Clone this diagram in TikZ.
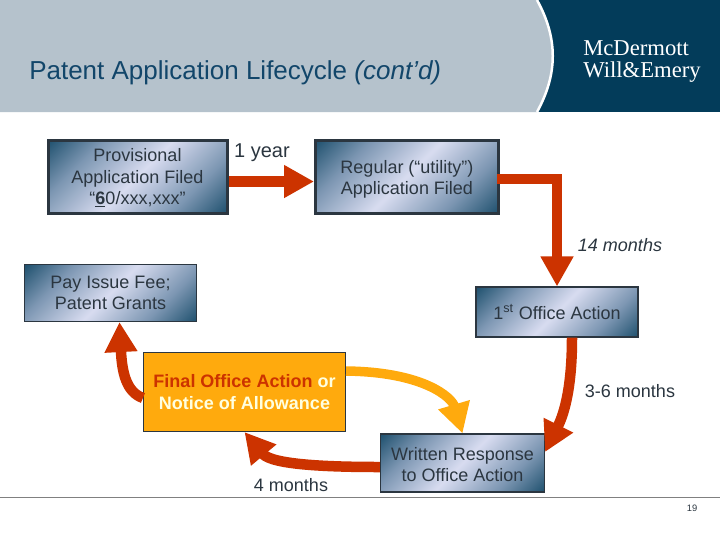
\documentclass[tikz,border=0pt]{standalone}
\usepackage{fontspec}
\setmainfont{Liberation Sans}
\newfontfamily\logofont{Liberation Serif}
\usetikzlibrary{arrows.meta}
\definecolor{navy}{HTML}{033C5A}
\definecolor{steel}{HTML}{7C96B2}
\definecolor{lav}{HTML}{D8DCF0}
\definecolor{headgray}{HTML}{B5C2CC}
\definecolor{redor}{HTML}{CC3300}
\definecolor{amber}{HTML}{FFAA0D}
\definecolor{cream}{HTML}{FFFFE0}
\definecolor{ink}{HTML}{2B3640}
\definecolor{titleblue}{HTML}{12466A}
\pgfdeclarehorizontalshading{boxshade}{100bp}{color(0bp)=(navy); color(10bp)=(navy); color(30bp)=(steel); color(50bp)=(lav); color(70bp)=(steel); color(90bp)=(navy); color(100bp)=(navy)}
\def\U{0.75pt}
\tikzset{
 x=0.75pt,y=-0.75pt,
 gradbox/.style={draw=ink,line width=1.1*\U,shading=boxshade,shading angle=-45,inner sep=0pt},
 sized/.style 2 args={minimum width=#1*\U,minimum height=#2*\U},
 heavy/.style={line width=3*\U},
 boxtext/.style={inner sep=0pt,align=center,text=ink,font=\fontsize{13.5}{16}\selectfont},
 lbl/.style={inner sep=0pt,text=ink,font=\fontsize{13.5}{16}\selectfont},
 flow/.style={color=redor,line width=10.5*\U,line join=miter},
 bighead/.style={-{Triangle[length=30*\U,width=31*\U]}},
}
\begin{document}
\begin{tikzpicture}
\useasboundingbox (0,0) rectangle (720,540);
\fill[white] (0,0) rectangle (720,540);
% header
\fill[navy] (0,0) rectangle (720,112);
\fill[headgray] (0,0) -- (537,0) .. controls (558,38) and (558,74) .. (537,112) -- (0,112) -- cycle;
\draw[white,line width=2.5*\U] (537,0) .. controls (558,38) and (558,74) .. (537,112);
\node[anchor=west,inner sep=0pt,text=titleblue,font=\fontsize{19.5}{22}\selectfont] (title) at (29,73) {Patent Application Lifecycle \textit{(cont’d)}};
\node[anchor=west,inner sep=0pt,text=white,align=left,font=\logofont\fontsize{17}{16.5}\selectfont] (logo) at (583,62) {McDermott\\Will\&Emery};
% footer
\draw[gray,line width=1*\U] (0,497) -- (720,497);
\node[inner sep=0pt,text=ink,font=\fontsize{7}{8}\selectfont] (page) at (692,508) {19};
% boxes
\node[gradbox,heavy,sized={179}{73},label={[boxtext,yshift=-1.5*\U]center:{Provisional\\Application Filed\\“\underline{\textbf{6}}0/xxx,xxx”}}] (prov) at (137.5,176.5) {};
\node[gradbox,heavy,sized={183}{73},label={[boxtext,yshift=-3*\U]center:{Regular (“utility”)\\Application Filed}}] (reg) at (407,176.5) {};
\node[gradbox,sized={172}{57},label={[boxtext]center:{Pay Issue Fee;\\Patent Grants}}] (pay) at (110.5,293) {};
\node[gradbox,sized={162}{50},label={[boxtext]center:{1\textsuperscript{st} Office Action}}] (oa) at (557,312) {};
\node[gradbox,sized={164}{58},label={[boxtext,yshift=-1.5*\U]center:{Written Response\\to Office Action}}] (resp) at (462.5,463) {};
\node[draw=ink,line width=1.1*\U,fill=amber,sized={202}{79},inner sep=0pt,align=center,font=\fontsize{13.5}{16}\bfseries\selectfont] (fin) at (244.5,392) {\textcolor{redor}{Final Office Action} \textcolor{cream}{or}\\\textcolor{cream}{Notice of Allowance}};
% labels
\node[lbl,font=\fontsize{15}{16}\selectfont] (y1) at (262,153) {1 year};
\node[lbl,font=\fontsize{13.5}{16}\itshape\selectfont] (m14) at (620,245) {14 months};
\node[lbl] (m36) at (630,391) {3-6 months};
\node[lbl] (m4) at (291,485) {4 months};
% connectors
\draw[flow,bighead] ([yshift=-5*\U]prov.east) -- ([yshift=-5*\U]reg.west);
\coordinate (regout) at (497,179);
\draw[flow,bighead] (regout) -| (oa.north);
\draw[flow,bighead] ([xshift=15*\U]oa.south) .. controls (572,385) and (565,412) .. ([yshift=11*\U]resp.east);
\draw[flow,bighead] ([yshift=-4*\U]resp.west) .. controls (330,467) and (272,465) .. (fin.south);
\draw[flow,bighead] ([yshift=-6*\U]fin.west) .. controls (126,392) and (122,372) .. ([xshift=9*\U]pay.south);
\draw[amber,line width=9.5*\U,bighead] ([yshift=21*\U]fin.east) .. controls (425,372) and (452,398) .. (resp.north);
\end{tikzpicture}
\end{document}
